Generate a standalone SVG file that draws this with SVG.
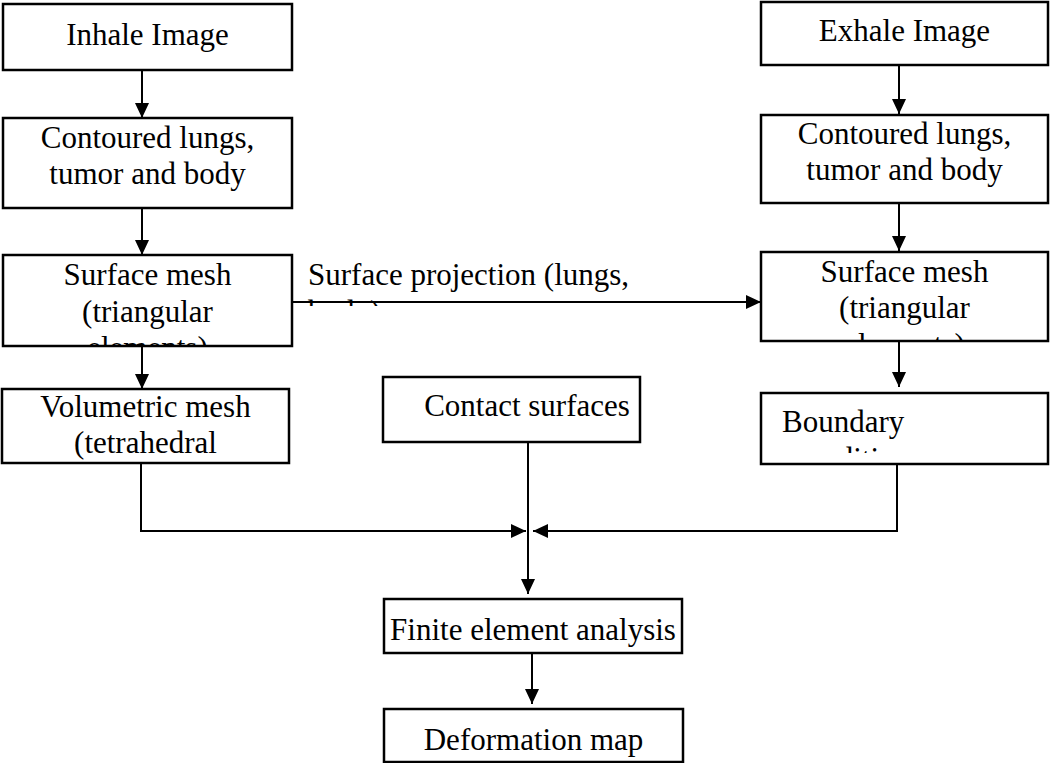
<svg xmlns="http://www.w3.org/2000/svg" width="1050" height="763" viewBox="0 0 1050 763">
<style>
.box{fill:#fff;stroke:#000;stroke-width:2.5}
.t{font-family:"Liberation Serif","Times New Roman",serif;font-size:31px;fill:#000}
.c{text-anchor:middle}
.ln{fill:none;stroke:#000;stroke-width:2}
</style>
<defs>
<marker id="ah" markerUnits="userSpaceOnUse" markerWidth="16" markerHeight="14" refX="15" refY="7" orient="auto">
<path d="M0,0 L15,7 L0,14 Z" fill="#000"/>
</marker>
<clipPath id="cl-sml"><rect x="0" y="254" width="292" height="91"/></clipPath>
<clipPath id="cl-smr"><rect x="761" y="251" width="287" height="89"/></clipPath>
<clipPath id="cl-proj"><rect x="300" y="255" width="460" height="51"/></clipPath>
<clipPath id="cl-bnd"><rect x="761" y="392" width="287" height="61"/></clipPath>
<clipPath id="cl-def"><rect x="384" y="709" width="299" height="52"/></clipPath>
</defs>
<rect width="1050" height="763" fill="#fff"/>
<g id="connectors">
<line class="ln" x1="142" y1="70" x2="142" y2="118" marker-end="url(#ah)"/>
<line class="ln" x1="142" y1="208" x2="142" y2="255" marker-end="url(#ah)"/>
<line class="ln" x1="142" y1="346" x2="142" y2="389" marker-end="url(#ah)"/>
<line class="ln" x1="292" y1="302" x2="761" y2="302" marker-end="url(#ah)"/>
<line class="ln" x1="899" y1="65" x2="899" y2="114" marker-end="url(#ah)"/>
<line class="ln" x1="899" y1="203" x2="899" y2="251" marker-end="url(#ah)"/>
<line class="ln" x1="899" y1="341" x2="899" y2="387" marker-end="url(#ah)"/>
<polyline class="ln" points="141,463 141,531 526,531" marker-end="url(#ah)"/>
<polyline class="ln" points="897,464 897,531 533,531" marker-end="url(#ah)"/>
<line class="ln" x1="528" y1="442" x2="528" y2="594" marker-end="url(#ah)"/>
<line class="ln" x1="532" y1="653" x2="532" y2="704" marker-end="url(#ah)"/>
<g clip-path="url(#cl-proj)">
<text class="t" x="308" y="285">Surface projection (lungs,</text>
<text class="t" x="308" y="322">body)</text>
</g>
</g>
<g id="inhale">
<rect class="box" x="3" y="4" width="289" height="66"/>
<text class="t c" x="147.5" y="45">Inhale Image</text>
</g>
<g id="contour-left">
<rect class="box" x="3" y="118" width="289" height="90"/>
<text class="t c" x="147.5" y="148">Contoured lungs,</text>
<text class="t c" x="147.5" y="184">tumor and body</text>
</g>
<g id="surface-left">
<rect class="box" x="3" y="255" width="289" height="91"/>
<g clip-path="url(#cl-sml)">
<text class="t c" x="147.5" y="285">Surface mesh</text>
<text class="t c" x="147.5" y="322">(triangular</text>
<text class="t c" x="147.5" y="358">elements)</text>
</g>
</g>
<g id="volumetric">
<rect class="box" x="2" y="389" width="287" height="74"/>
<text class="t c" x="145.5" y="417">Volumetric mesh</text>
<text class="t c" x="145.5" y="453">(tetrahedral</text>
</g>
<g id="contact">
<rect class="box" x="383" y="377" width="257" height="65"/>
<text class="t c" x="527" y="416">Contact surfaces</text>
</g>
<g id="exhale">
<rect class="box" x="761" y="2" width="287" height="63"/>
<text class="t c" x="904.5" y="41">Exhale Image</text>
</g>
<g id="contour-right">
<rect class="box" x="761" y="115" width="287" height="88"/>
<text class="t c" x="904.5" y="144">Contoured lungs,</text>
<text class="t c" x="904.5" y="180">tumor and body</text>
</g>
<g id="surface-right">
<rect class="box" x="761" y="252" width="287" height="89"/>
<g clip-path="url(#cl-smr)">
<text class="t c" x="904.5" y="282">Surface mesh</text>
<text class="t c" x="904.5" y="318">(triangular</text>
<text class="t c" x="904.5" y="355">elements)</text>
</g>
</g>
<g id="boundary">
<rect class="box" x="761" y="393" width="287" height="71"/>
<g clip-path="url(#cl-bnd)">
<text class="t" x="782" y="432">Boundary</text>
<text class="t" x="793" y="469">conditions</text>
</g>
</g>
<g id="fea">
<rect class="box" x="384" y="599" width="298" height="54"/>
<text class="t c" x="533" y="640">Finite element analysis</text>
</g>
<g id="deformation">
<rect class="box" x="384" y="709" width="299" height="53"/>
<g clip-path="url(#cl-def)">
<text class="t c" x="533.5" y="750">Deformation map</text>
</g>
</g>
</svg>
